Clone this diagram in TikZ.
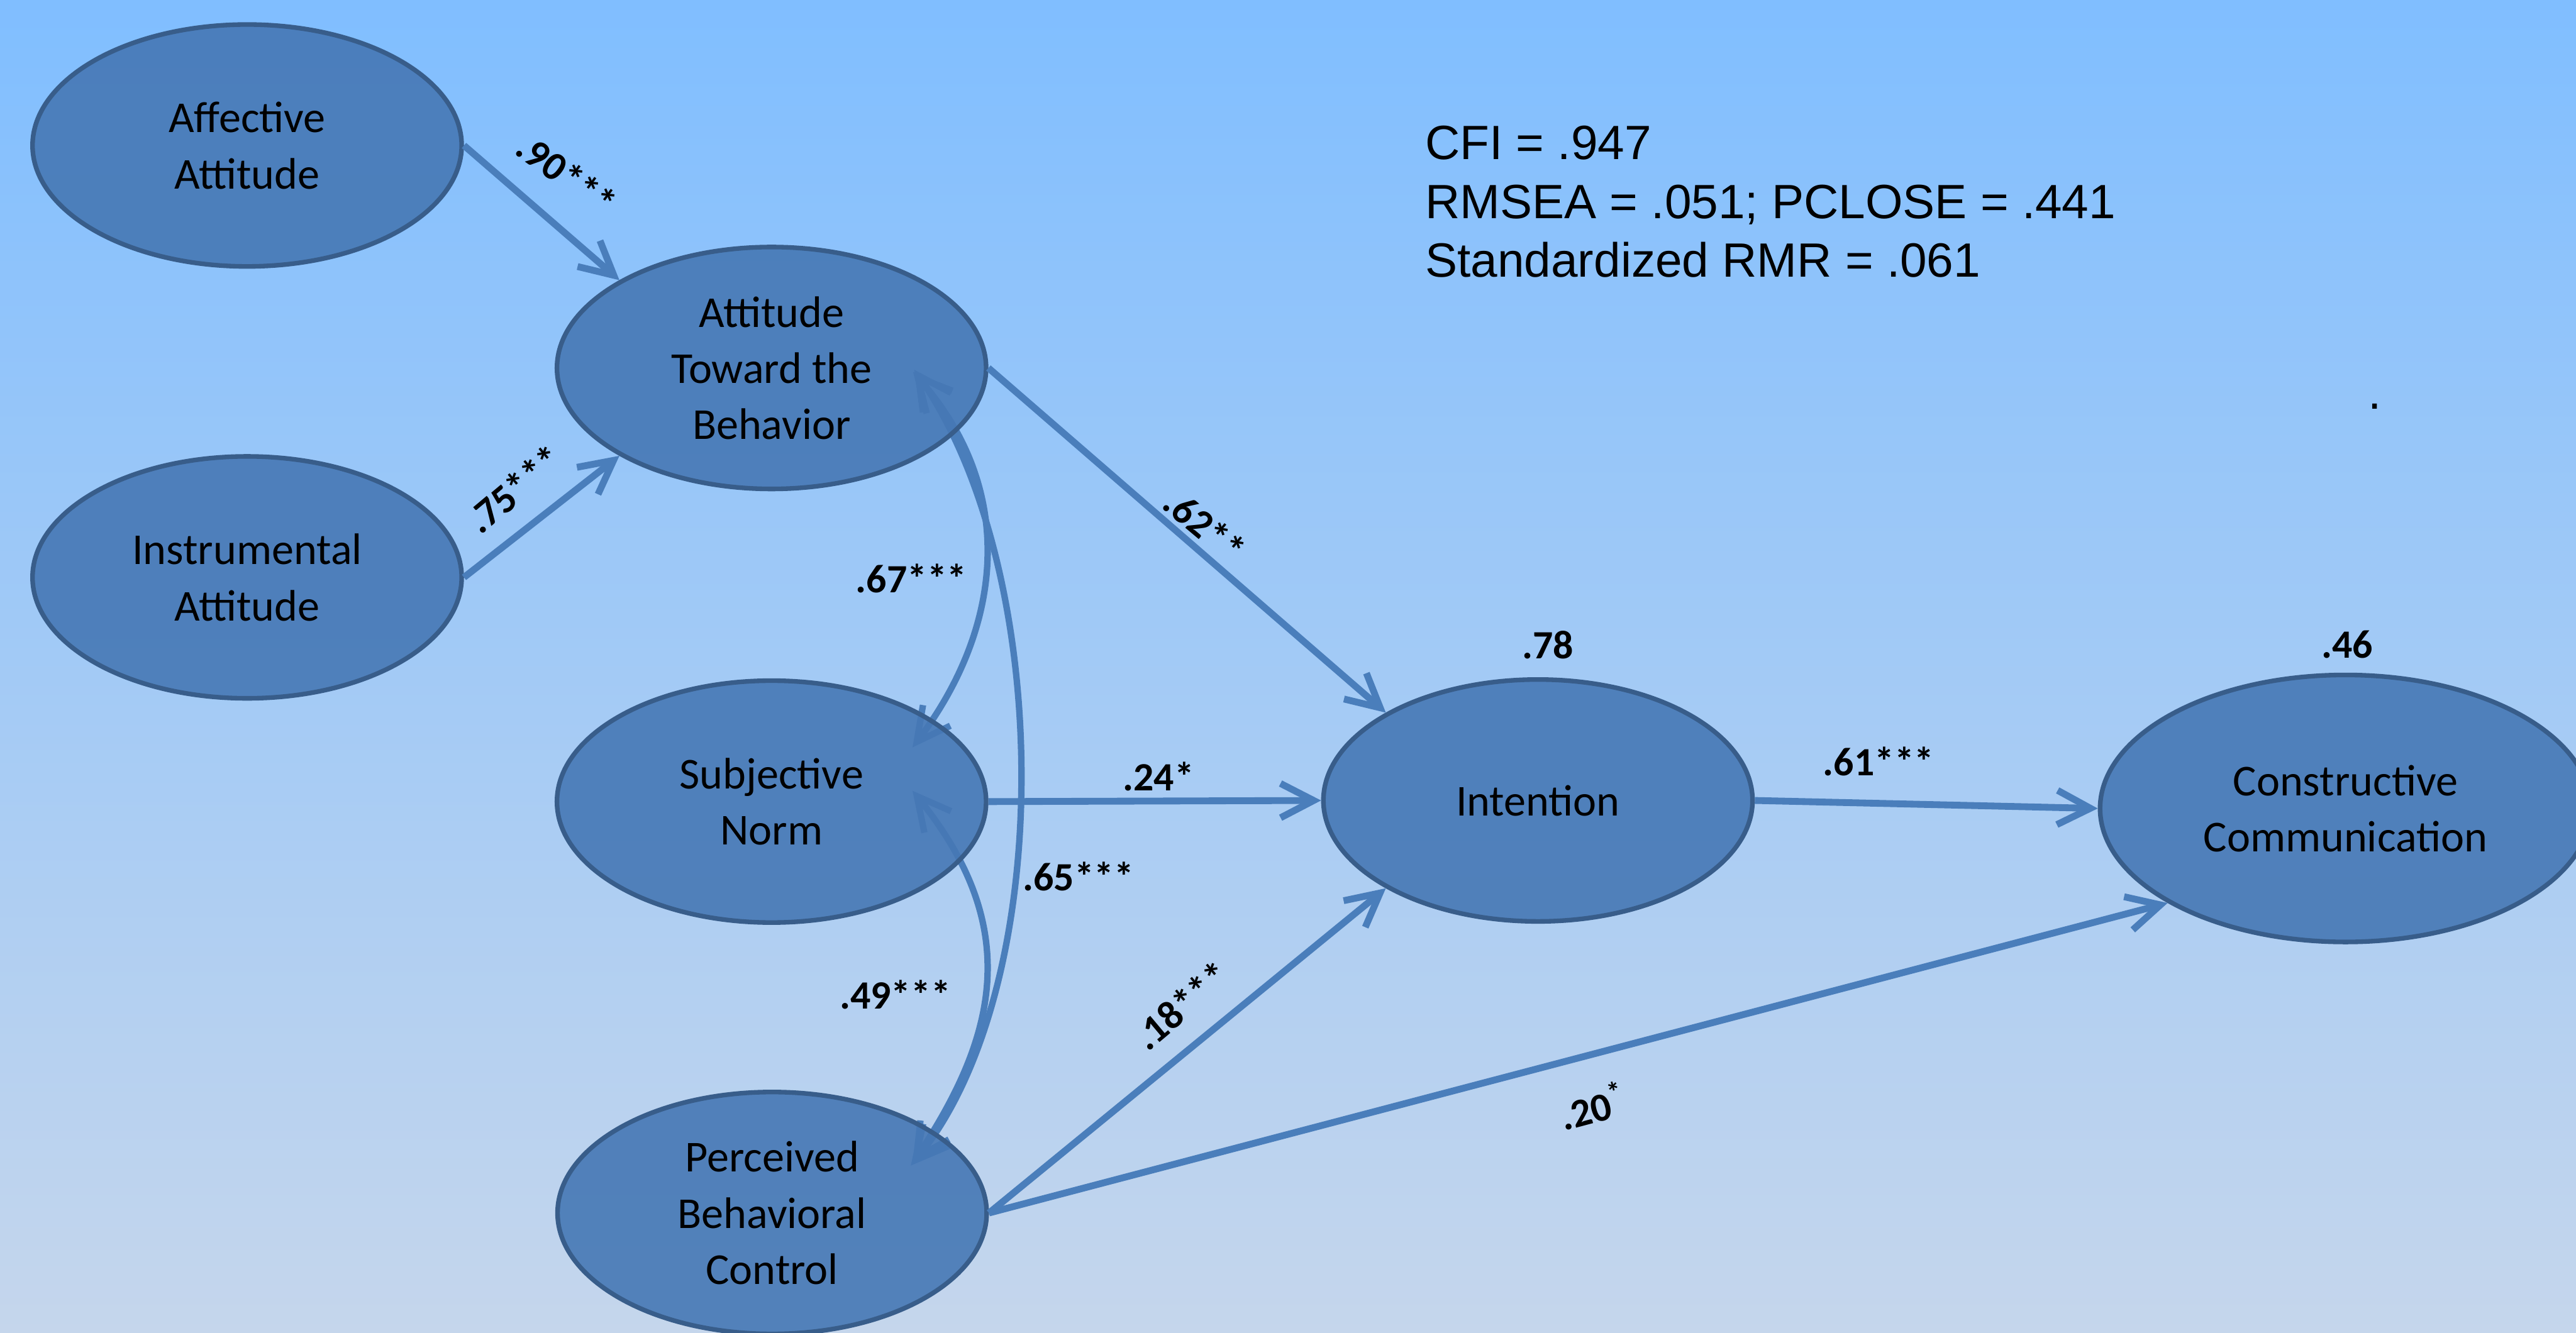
\documentclass[tikz,border=0pt]{standalone}
\usepackage{fontspec}
\setmainfont{Carlito}
\newfontfamily\fitfont{Liberation Sans}
\usetikzlibrary{arrows.meta,shapes.geometric}
\definecolor{bgtop}{RGB}{128,190,255}
\definecolor{bgbot}{RGB}{197,214,236}
\definecolor{lvfill}{RGB}{70,120,181}
\definecolor{lvline}{RGB}{56,93,138}
\definecolor{pathcol}{RGB}{74,126,187}
\pgfdeclarelayer{bg}
\pgfdeclarelayer{links}
\pgfsetlayers{bg,links,main}
\tikzset{
  latent/.style={ellipse, draw=lvline, line width=2.3pt, fill=lvfill,
    fill opacity=0.9, text opacity=1, minimum width=7.52cm,
    minimum height=4.24cm, inner sep=0pt, align=center,
    font=\fontsize{22}{28}\selectfont},
  coef/.style={font=\fontsize{20}{24}\selectfont\bfseries, inner sep=0pt},
  barb/.style={Straight Barb[length=5.8mm,width=6mm]},
  effect/.style={draw=pathcol, line width=3.4pt, -{Straight Barb[length=5.8mm,width=6mm]}},
  covar/.style={draw=pathcol, line width=3.2pt,
    {Straight Barb[length=5.8mm,width=6mm]}-{Straight Barb[length=5.8mm,width=6mm]}}
}
\begin{document}
\begin{tikzpicture}
  \useasboundingbox (0,0) rectangle (45.14,23.36);
  \begin{pgfonlayer}{bg}
    \fill[top color=bgtop, bottom color=bgbot] (0,0) rectangle (45.14,23.36);
  \end{pgfonlayer}
  % latent variables
  \node[latent] (aff) at (4.33,20.81) {Affective\\Attitude};
  \node[latent] (atb) at (13.52,16.91) {Attitude\\Toward the\\Behavior};
  \node[latent] (ins) at (4.33,13.24) {Instrumental\\Attitude};
  \node[latent] (sn) at (13.52,9.31) {Subjective\\Norm};
  \node[latent] (pbc) at (13.53,2.10) {Perceived\\Behavioral\\Control};
  \node[latent] (int) at (26.95,9.33) {Intention};
  \node[latent, minimum width=8.6cm, minimum height=4.68cm] (cc) at (41.10,9.19) {Constructive\\Communication};
  % correlations
  \begin{pgfonlayer}{links}
    \draw[covar] ([shift={(2.48,-0.07)}]atb.center) .. controls ([shift={(4.38,-2.23)}]atb.center) and ([shift={(3.98,2.95)}]sn.center) .. ([shift={(2.47,0.95)}]sn.center);
    \draw[covar] ([shift={(2.47,0.19)}]sn.center) .. controls ([shift={(4.37,-2.16)}]sn.center) and ([shift={(3.99,3.17)}]pbc.center) .. ([shift={(2.46,0.87)}]pbc.center);
    \draw[covar] ([shift={(2.50,-0.03)}]atb.center) .. controls ([shift={(4.98,-3.61)}]atb.center) and ([shift={(4.97,3.90)}]pbc.center) .. ([shift={(2.43,0.83)}]pbc.center);
  \end{pgfonlayer}
  % paths
  \draw[effect] (aff.east) -- (atb.150);
  \draw[effect] (ins.east) -- (atb.210);
  \draw[effect] (atb.east) -- (int.150);
  \draw[effect] (sn.east) -- (int.west);
  \draw[effect] (pbc.east) -- (int.210);
  \draw[effect] (pbc.east) -- (cc.208);
  \draw[effect] (int.east) -- (cc.west);
  % coefficients
  \node[coef, rotate=-36] (l90) at (9.93,20.30) {.90***};
  \node[coef, rotate=40] (l75) at (9.01,14.79) {.75***};
  \node[coef, rotate=-40] (l62) at (21.11,14.15) {.62**};
  \node[coef] (l67) at (15.97,13.22) {.67***};
  \node[coef] (l49) at (15.69,5.93) {.49***};
  \node[coef] (l65) at (18.90,8.00) {.65***};
  \node[coef] (l24) at (20.30,9.75) {.24*};
  \node[coef, rotate=40] (l18) at (20.70,5.74) {.18***};
  \node[coef, rotate=15] (l20) at (27.90,3.98) {.20\textsuperscript{*}};
  \node[coef] (l61) at (32.92,10.01) {.61***};
  \node[coef] (r78) at (27.12,12.06) {.78};
  \node[coef] (r46) at (41.13,12.06) {.46};
  % fit
  \node[font=\fitfont\fontsize{24}{29.3}\selectfont, align=left, anchor=north west, inner sep=0pt] (fit) at (24.97,21.16) {CFI = .947\\RMSEA = .051; PCLOSE = .441\\Standardized RMR = .061};
  \node[font=\fitfont\fontsize{24}{29}\selectfont, inner sep=0pt, anchor=base] (dot) at (41.61,16.19) {.};
\end{tikzpicture}
\end{document}
